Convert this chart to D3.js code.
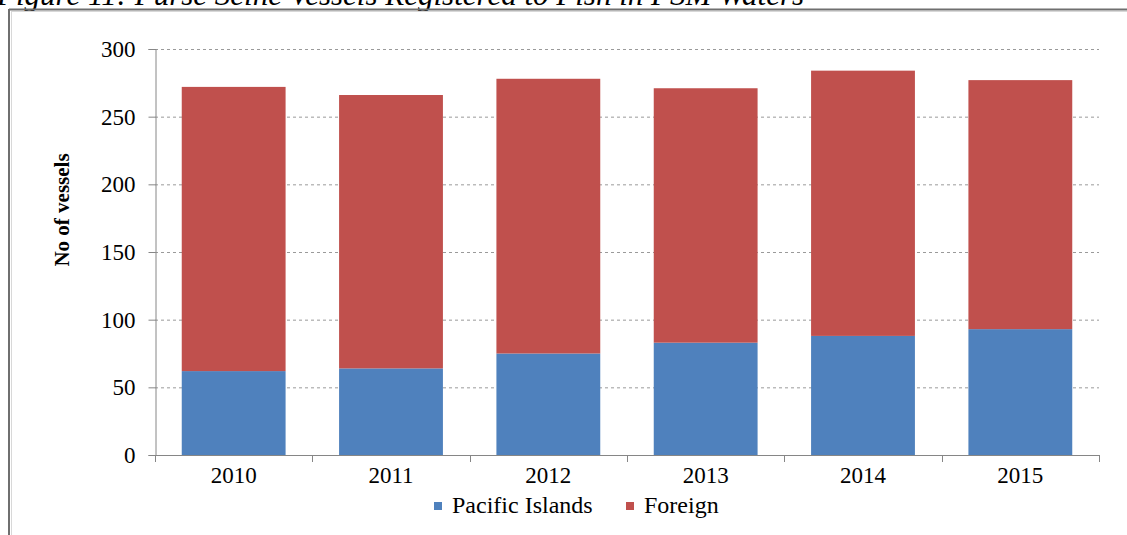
<!DOCTYPE html>
<html><head><meta charset="utf-8">
<script src="https://cdn.jsdelivr.net/npm/d3@7"></script>
<style>body{margin:0;background:#fff}svg{display:block}text{font-family:'Liberation Serif','Times New Roman',serif}</style>
</head><body>
<svg id="c" width="1127" height="535"></svg>
<script>
const years = ["2010","2011","2012","2013","2014","2015"];
const pacific = [62, 64, 75, 83, 88, 93];
const foreign = [210, 202, 203, 188, 196, 184];
const seriesNames = ["Pacific Islands","Foreign"];
const seriesColors = ["#4F81BD","#C0504D"];
const yTicks = [0,50,100,150,200,250,300];
const caption = "Figure 11: Purse Seine Vessels Registered to Fish in FSM Waters";

const svg = d3.select("#c");
const font = "'Liberation Serif','Times New Roman',serif";
const m = {l:155, r:1099, t:49, b:455};

// caption (cut off at top)
svg.append("text").attr("x",-3).attr("y",5).style("font-family",font)
  .attr("font-style","italic").attr("font-size",31).attr("fill","#000").text(caption);

// frame
svg.append("line").attr("x1",9).attr("x2",1127).attr("y1",9.5).attr("y2",9.5).attr("stroke","#6f6f6f").attr("stroke-width",2);
svg.append("line").attr("x1",9).attr("x2",9).attr("y1",9).attr("y2",535).attr("stroke","#6f6f6f").attr("stroke-width",2);
svg.append("line").attr("x1",11).attr("x2",1127).attr("y1",11.5).attr("y2",11.5).attr("stroke","#d8d8d8").attr("stroke-width",1);
svg.append("line").attr("x1",11.5).attr("x2",11.5).attr("y1",11).attr("y2",535).attr("stroke","#d8d8d8").attr("stroke-width",1);

const x = d3.scaleBand().domain(years).range([m.l, m.r]).paddingInner(0.34).paddingOuter(0.17);
const y = d3.scaleLinear().domain([0,300]).range([m.b, m.t]);

// gridlines
svg.append("g").selectAll("line").data(yTicks.filter(d=>d>0)).join("line")
  .attr("x1",m.l).attr("x2",m.r).attr("y1",d=>y(d)+0.5).attr("y2",d=>y(d)+0.5)
  .attr("stroke","#9a9a9a").attr("stroke-dasharray","3,3").attr("stroke-width",1);

// stacked bars
const data = years.map((yr,i)=>({year:yr, "Pacific Islands":pacific[i], "Foreign":foreign[i]}));
const stack = d3.stack().keys(seriesNames)(data);
svg.append("g").selectAll("g").data(stack).join("g")
  .attr("fill",(d,i)=>seriesColors[i])
  .selectAll("rect").data(d=>d).join("rect")
  .attr("x",d=>x(d.data.year)).attr("width",x.bandwidth())
  .attr("y",d=>y(d[1])).attr("height",d=>y(d[0])-y(d[1]));

// y axis
const yAxis = svg.append("g").attr("transform",`translate(${m.l+0.5},0)`)
  .call(d3.axisLeft(y).tickValues(yTicks).tickSize(7).tickPadding(13));
yAxis.select(".domain").attr("stroke","#868686");
yAxis.selectAll(".tick line").attr("stroke","#868686");
yAxis.selectAll("text").style("font-family",font).attr("font-size",23).attr("fill","#000");

// x axis
const xAxis = svg.append("g").attr("transform",`translate(0,${m.b+0.5})`)
  .call(d3.axisBottom(x).tickSize(0));
xAxis.select(".domain").attr("stroke","#868686").attr("d",`M${m.l},0H${m.r}`);
xAxis.selectAll("text").style("font-family",font).attr("font-size",23).attr("fill","#000")
  .attr("y",27).attr("dy",0);
const bounds = d3.range(years.length+1).map(i=>m.l + i*(m.r-m.l)/years.length);
svg.append("g").selectAll("line").data(bounds).join("line")
  .attr("x1",d=>Math.round(d)+0.5).attr("x2",d=>Math.round(d)+0.5)
  .attr("y1",m.b).attr("y2",m.b+7).attr("stroke","#868686");

// y label
svg.append("text").attr("transform","translate(69,210) rotate(-90)")
  .attr("text-anchor","middle").style("font-family",font).attr("font-weight","bold")
  .attr("font-size",21).attr("fill","#000").text("No of vessels");

// legend
const leg = svg.append("g");
const legX = [434, 626];
seriesNames.forEach((n,i)=>{
  leg.append("rect").attr("x",legX[i]).attr("y",502).attr("width",8).attr("height",8).attr("fill",seriesColors[i]);
  leg.append("text").attr("x",legX[i]+18).attr("y",513).style("font-family",font)
    .attr("font-size",24).attr("fill","#000").text(n);
});
</script>
</body></html>
